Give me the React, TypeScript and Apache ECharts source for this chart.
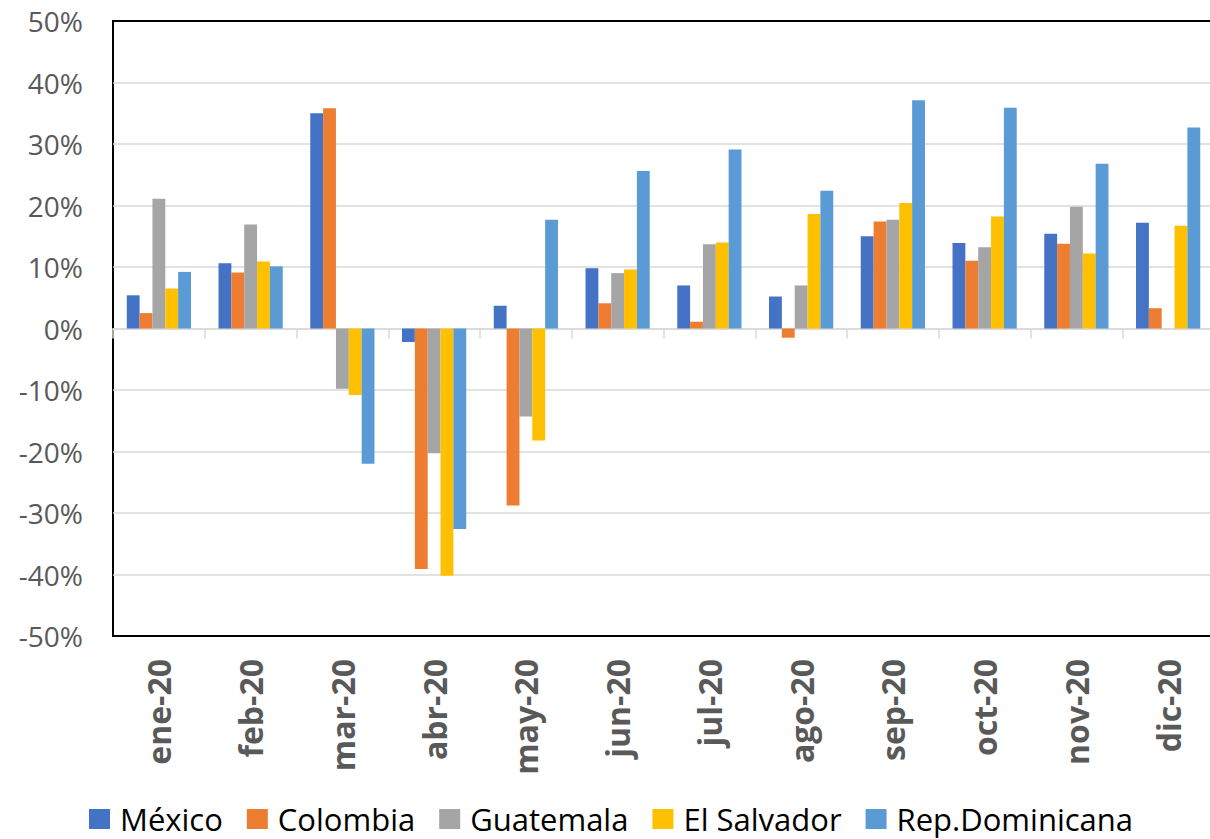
import React, { useEffect, useRef } from "react";
import * as echarts from "echarts";

const months = ["ene-20", "feb-20", "mar-20", "abr-20", "may-20", "jun-20", "jul-20", "ago-20", "sep-20", "oct-20", "nov-20", "dic-20"];
const mexico = [5.4, 10.6, 35.0, -2.2, 3.7, 9.8, 7.0, 5.2, 15.0, 13.9, 15.4, 17.2];
const colombia = [2.5, 9.1, 35.8, -39.1, -28.8, 4.1, 1.1, -1.5, 17.4, 11.0, 13.8, 3.3];
const guatemala = [21.1, 16.9, -9.8, -20.3, -14.3, 9.0, 13.7, 7.0, 17.7, 13.2, 19.8, null];
const elSalvador = [6.5, 10.9, -10.8, -40.2, -18.2, 9.6, 14.0, 18.6, 20.4, 18.2, 12.2, 16.7];
const repDominicana = [9.2, 10.1, -22.0, -32.6, 17.7, 25.6, 29.1, 22.4, 37.1, 35.9, 26.8, 32.7];

const seriesNames = ["México", "Colombia", "Guatemala", "El Salvador", "Rep.Dominicana"];
const seriesData = [mexico, colombia, guatemala, elSalvador, repDominicana];
const colors = ["#4472C4", "#ED7D31", "#A5A5A5", "#FFC000", "#5B9BD5"];

export default function App() {
  const ref = useRef<HTMLDivElement>(null);
  useEffect(() => {
    if (!ref.current) return;
    const chart = echarts.init(ref.current, null, { renderer: "svg" });
    chart.setOption({
      animation: false,
      color: colors,
      grid: {
        left: 113,
        top: 21,
        right: -4,
        bottom: 203,
        show: true,
        borderColor: "#000",
        borderWidth: 2,
        containLabel: false,
        outerBoundsMode: "none",
      },
      legend: {
        top: 803,
        left: 84,
        padding: [0, 5, 0, 5],
        itemWidth: 21,
        itemHeight: 20,
        itemGap: 24,
        icon: "rect",
        textStyle: { fontFamily: "Open Sans", fontSize: 31, lineHeight: 32, color: "#000", padding: [0, 0, 0, 5] },
        data: seriesNames,
      },
      xAxis: [
        {
          type: "category",
          data: months,
          position: "bottom",
          axisLine: { show: false, onZero: false },
          axisTick: { show: false },
          splitLine: { show: false },
          axisLabel: {
            rotate: 90,
            margin: 23,
            interval: 0,
            fontFamily: "Open Sans",
            fontWeight: "bold",
            fontSize: 32,
            color: "#595959",
          },
        },
        {
          type: "category",
          data: months,
          position: "bottom",
          axisLine: { show: true, onZero: true, lineStyle: { color: "#d9d9d9", width: 1.5 } },
          axisTick: { show: true, length: 10, inside: false, lineStyle: { color: "#d9d9d9", width: 1.5 } },
          axisLabel: { show: false },
          splitLine: { show: false },
        },
      ],
      yAxis: {
        type: "value",
        min: -50,
        max: 50,
        interval: 10,
        axisLine: { show: false },
        axisTick: { show: false },
        splitLine: { showMinLine: false, showMaxLine: false, lineStyle: { color: "#d9d9d9", width: 1.5 } },
        axisLabel: {
          formatter: (v: number) => `${v}%`,
          margin: 30,
          fontFamily: "Open Sans",
          fontSize: 28,
          color: "#595959",
        },
      },
      series: seriesNames.map((name, i) => ({
        name,
        type: "bar",
        xAxisIndex: 0,
        data: seriesData[i],
        barGap: "0%",
        barCategoryGap: "30%",
        itemStyle: { color: colors[i] },
      })),
    });
    return () => chart.dispose();
  }, []);
  return (
    <div
      ref={ref}
      style={{ position: "fixed", left: 0, top: 0, width: "1210px", height: "839px", background: "#fff" }}
    />
  );
}
